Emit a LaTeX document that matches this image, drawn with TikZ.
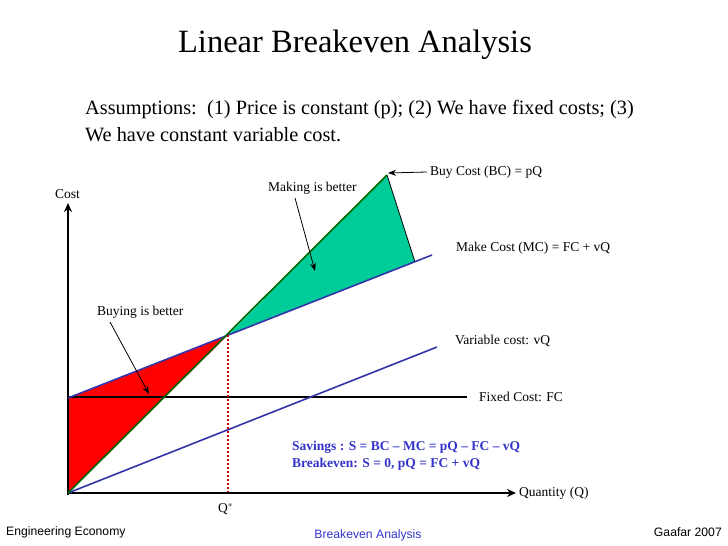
\documentclass[tikz,border=0pt]{standalone}
\usepackage{fontspec}
\setmainfont{Liberation Serif}
\newfontfamily\arialf{Liberation Sans}
\usetikzlibrary{arrows.meta}
\definecolor{teal1}{RGB}{0,204,153}
\definecolor{lineblue}{RGB}{51,51,170}
\definecolor{savblue}{RGB}{51,51,204}
\begin{document}
\begin{tikzpicture}[x=1pt,y=-1pt,
  lbl/.style={font=\fontsize{13.5}{16}\selectfont,anchor=west,inner sep=0},
  ptr/.style={-{Stealth[length=8pt,width=6pt]},line width=0.8pt}]
\useasboundingbox (0,0) rectangle (728,546);
% fills
\fill[red] (68,398) -- (228,335) -- (68,493) -- cycle;
\fill[teal1] (228,335) -- (387,175) -- (415,262) -- cycle;
\draw[line width=0.8pt] (387,175) -- (415,262);
% axes
\coordinate (O) at (68,493);
\coordinate (ytop) at (68,203);
\coordinate (xend) at (516,493);
\draw[line width=2.4pt,-{Stealth[length=9pt,width=8pt]}] (68,495) -- (ytop);
\draw[line width=2.4pt,-{Stealth[length=9pt,width=8pt]}] (67,493) -- (xend);
% lines
\draw[line width=1.4pt] (68,397) -- (467,397);
\draw[line width=1.6pt,lineblue] (O) -- (437,347);
\draw[line width=1.6pt,lineblue] (68,398) -- (432,255);
\draw[line width=1.6pt,green!40!black] (O) -- (387,175);
\draw[red!80!black,line width=2pt,dotted] (228,335) -- (228,492);
% title and texts
\node[font=\fontsize{32.5}{36}\selectfont] (title) at (355,45) {Linear Breakeven Analysis};
\node[font=\fontsize{20.3}{24}\selectfont,anchor=west,inner sep=0] (a1) at (85,110) {Assumptions:\ \ (1) Price is constant (p); (2) We have fixed costs; (3)};
\node[font=\fontsize{20.3}{24}\selectfont,anchor=west,inner sep=0] (a2) at (85,135) {We have constant variable cost.};
\node[lbl] (cost) at (55,194) {Cost};
\node[lbl] (bc) at (430,172) {Buy Cost (BC) = pQ};
\node[lbl] (mc) at (456,248) {Make Cost (MC) = FC + vQ};
\node[lbl] (vc) at (455,341) {Variable cost: vQ};
\node[lbl] (fc) at (479,397) {Fixed Cost: FC};
\node[lbl] (qq) at (519,493) {Quantity (Q)};
\node[lbl] (qs) at (218,509) {Q$^{*}$};
\node[lbl] (mb) at (268,188) {Making is better};
\node[lbl] (bb) at (97,312) {Buying is better};
\node[lbl,font=\fontsize{13.5}{16}\selectfont\bfseries,text=savblue] (s1) at (292,447) {Savings : S = BC -- MC = pQ -- FC -- vQ};
\node[lbl,font=\fontsize{13.5}{16}\selectfont\bfseries,text=savblue] (s2) at (292,464) {Breakeven: S = 0, pQ = FC + vQ};
\coordinate (bcT) at (388,173);
\coordinate (mbT) at (315,271);
\coordinate (bbT) at (149,394);
\draw[ptr] (bc.west) ++(-3,0) -- (bcT);
\draw[ptr] (295,198) -- (mbT);
\draw[ptr] (110,322) -- (bbT);
% footer
\node[font=\arialf\fontsize{12.2}{14}\selectfont,anchor=west,inner sep=0] (f1) at (6,532) {Engineering Economy};
\node[font=\arialf\fontsize{12.2}{14}\selectfont,text=savblue,inner sep=0] (f2) at (368,535) {Breakeven Analysis};
\node[font=\arialf\fontsize{12.2}{14}\selectfont,anchor=east,inner sep=0] (f3) at (722,532) {Gaafar 2007};
\end{tikzpicture}
\end{document}
